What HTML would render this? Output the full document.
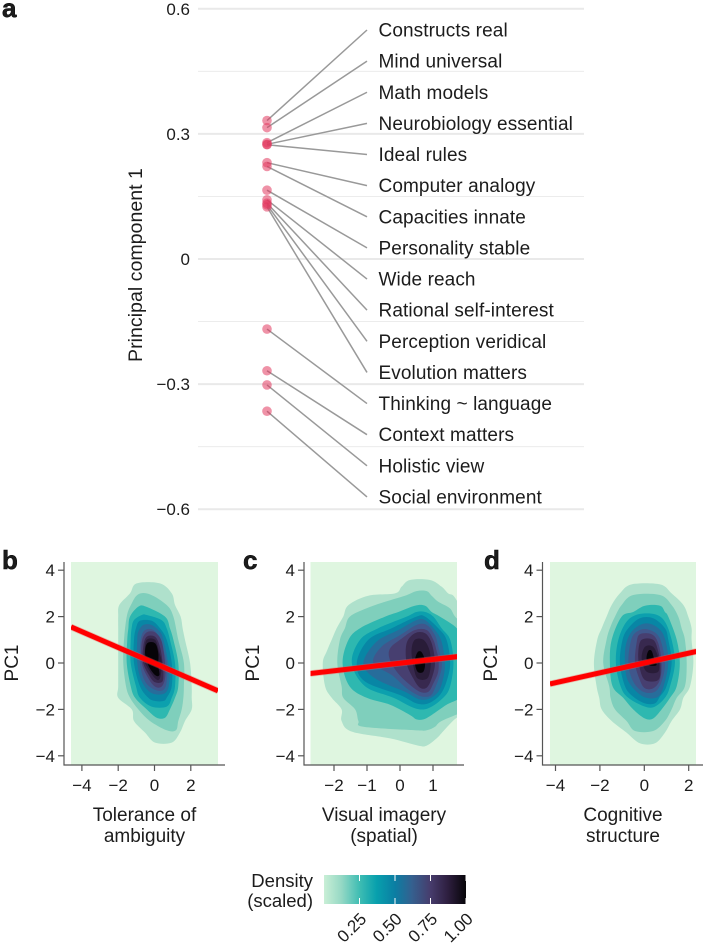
<!DOCTYPE html>
<html lang="en">
<head>
<meta charset="utf-8">
<title>Principal component 1 loadings and density panels</title>
<style>
html,body{margin:0;padding:0;background:#fff;}
svg{display:block;font-family:"Liberation Sans",sans-serif;}
text{fill:#1c1c1c;}
</style>
</head>
<body>
<svg id="fig" xmlns="http://www.w3.org/2000/svg" width="704" height="943" viewBox="0 0 704 943">
  <defs>
    <linearGradient id="densityGradient" x1="0" y1="0" x2="1" y2="0">
      <stop offset="0" stop-color="#c9efd6"/>
      <stop offset="0.12" stop-color="#97d9c5"/>
      <stop offset="0.25" stop-color="#3fbdb3"/>
      <stop offset="0.37" stop-color="#08a0ad"/>
      <stop offset="0.5" stop-color="#0b7ea3"/>
      <stop offset="0.62" stop-color="#35608f"/>
      <stop offset="0.75" stop-color="#473c6c"/>
      <stop offset="0.87" stop-color="#2e1f40"/>
      <stop offset="1" stop-color="#070509"/>
    </linearGradient>
  </defs>
  <g id="panelA"></g>
  <g id="panelB"></g>
  <g id="panelC"></g>
  <g id="panelD"></g>
  <g id="legend">
    <text x="313" y="887" text-anchor="end" font-size="18.5">Density</text>
    <text x="313" y="907" text-anchor="end" font-size="18.5">(scaled)</text>
    <rect x="324" y="875" width="142" height="29" fill="url(#densityGradient)"/>
  </g>
</svg>
<script>
// ---------- Panel a data ----------
const itemNames = ["Constructs real","Mind universal","Math models","Neurobiology essential","Ideal rules","Computer analogy","Capacities innate","Personality stable","Wide reach","Rational self-interest","Perception veridical","Evolution matters","Thinking ~ language","Context matters","Holistic view","Social environment"];
const itemLoadings = [0.332,0.315,0.279,0.275,0.274,0.231,0.222,0.165,0.142,0.134,0.130,0.125,-0.168,-0.268,-0.302,-0.365];
const pc1Ticks = [0.6,0.3,0,-0.3,-0.6];
const pc1TickLabels = ["0.6","0.3","0","\u22120.3","\u22120.6"];
const pc1MinorTicks = [0.45,0.15,-0.15,-0.45];

// ---------- Density contours: each level is a list of rows [pc1, xLeft, xRight] ----------
const contoursB = [
 [[3.43,-.98,.3],[3,-1.35,.95],[2.5,-1.94,1.13],[2,-2,1.44],[1.5,-2,1.55],[1,-2,1.68],[0,-2,1.96],[-1,-2,2.05],[-1.5,-2,2.05],[-2,-1.25,2.05],[-2.5,-1.13,1.68],[-3,-.52,1.4],[-3.43,.03,.95]],
 [[2.96,-.9,-.25],[2.5,-1.3,.67],[2,-1.53,1.04],[1,-1.68,1.31],[0,-1.72,1.62],[-1,-1.57,1.62],[-1.5,-1.35,1.59],[-2,-.89,1.5],[-2.5,-.25,1.31],[-2.9,.67,1.18]],
 [[2.43,-.89,-.47],[2,-1.35,.58],[1.5,-1.44,.85],[1,-1.5,1.04],[0,-1.53,1.31],[-1,-1.31,1.31],[-1.5,-1.07,1.13],[-2,-.43,.85],[-2.36,.12,.58]],
 [[2.07,-.7,-.43],[1.85,-1.13,.39],[1.5,-1.26,.67],[1,-1.31,.85],[0,-1.31,1.13],[-1,-1.02,1.13],[-1.5,-.8,.95],[-1.88,-.16,.67]],
 [[1.82,-.8,-.16],[1.5,-1.02,.3],[1,-1.13,.67],[0,-1.13,.95],[-1,-.8,.95],[-1.5,-.34,.67],[-1.64,.03,.49]],
 [[1.64,-.62,-.16],[1.35,-.89,.3],[1,-.95,.49],[0,-.95,.76],[-.8,-.7,.82],[-1.3,-.16,.58]],
 [[1.42,-.52,-.06],[1,-.76,.3],[0,-.8,.67],[-.8,-.52,.67],[-1.16,.03,.49]],
 [[1.32,-.43,.03],[.92,-.7,.4],[0,-.7,.58],[-.66,-.34,.58],[-1.02,.03,.39]],
 [[1.13,-.43,.03],[.7,-.62,.3],[0,-.62,.45],[-.59,-.25,.49],[-.83,.03,.39]],
 [[1,-.43,.03],[.5,-.55,.25],[0,-.52,.4],[-.66,.03,.3]],
 [[.85,-.4,.03],[.42,-.52,.21],[-.1,-.34,.21],[-.52,.03,.27]]
];
const contoursC = [
 [[3.58,.3,.91],[3.29,.05,1.26],[3,-.15,1.46],[2.9,-.96,1.62],[2.5,-1.56,1.8],[2,-1.72,2],[1.5,-1.92,2],[1,-2.07,2],[.5,-2.22,2],[0,-2.34,2],[-1,-2.27,2],[-1.5,-2.07,2],[-2,-1.77,2],[-2.5,-1.77,1.6],[-2.96,-1.46,1.3],[-3.25,-.3,1.11],[-3.56,.55,.81]],
 [[3.1,.5,.81],[2.9,.15,.96],[2.64,-.45,1.16],[2.36,-1.01,1.51],[2,-1.52,1.67],[1.5,-1.67,2],[1,-1.82,2],[0,-1.9,2],[-1,-1.77,2],[-1.5,-1.72,2],[-2,-1.36,2],[-2.5,-1.26,1.26],[-2.75,-1.11,1.06],[-2.9,.45,.81]],
 [[2.47,.45,.76],[2.2,-.05,.96],[2,-.45,1.21],[1.5,-1.21,1.72],[1,-1.56,1.8],[0,-1.74,1.8],[-1,-1.53,1.8],[-1.5,-1.01,1.8],[-1.8,-.3,1.41],[-2.24,.3,.96],[-2.43,.5,.71]],
 [[2.2,.5,.76],[2,.2,1.01],[1.5,-.66,1.26],[1,-1.21,1.52],[0,-1.46,1.62],[-1,-1.06,1.52],[-1.5,-.2,1.31],[-1.95,.45,.86]],
 [[2,.5,.76],[1.5,-.25,1.16],[1,-.96,1.41],[0,-1.31,1.52],[-.8,-1.06,1.41],[-1.38,0,1.21],[-1.74,.5,.86]],
 [[1.85,.5,.76],[1.42,-.05,1.06],[.92,-.71,1.26],[0,-1.11,1.36],[-.66,-.76,1.31],[-1.24,.15,1.16],[-1.55,.55,.86]],
 [[1.64,.5,.81],[1.2,0,1.06],[.7,-.56,1.16],[0,-.81,1.27],[-.52,-.25,1.21],[-1.09,.2,1.06],[-1.42,.6,.91]],
 [[1.42,.45,.81],[1,0,1.01],[.63,-.3,1.09],[.2,-.32,1.16],[-.37,-.1,1.16],[-.88,.25,1.01],[-1.24,.6,.86]],
 [[1.28,.45,.76],[.85,.2,.96],[0,.2,1.06],[-.66,.4,.96],[-1.06,.6,.81]],
 [[1,.45,.71],[.56,.35,.89],[-.09,.4,.93],[-.66,.53,.83]],
 [[.46,.53,.66],[.06,.45,.76],[-.37,.53,.71]]
];
const contoursD = [
 [[3.39,-.57,.71],[3,-1.1,1.23],[2.5,-1.47,1.76],[2,-1.7,1.98],[1.5,-1.92,2.13],[1,-2.12,2.13],[0,-2.27,2.21],[-1,-2.15,2.06],[-1.5,-2.03,1.76],[-2,-1.92,1.61],[-2.5,-1.47,1.23],[-3,-.8,.93],[-3.46,-.2,.48]],
 [[2.93,-.5,.71],[2.5,-1.02,1.23],[2,-1.32,1.53],[1.5,-1.55,1.68],[1,-1.7,1.83],[0,-1.85,1.91],[-1,-1.58,1.83],[-1.5,-1.52,1.46],[-2,-1.32,1.23],[-2.5,-.8,.93],[-2.93,-.42,.4]],
 [[2.47,.03,.71],[2.2,-.5,.93],[2,-1.02,1.08],[1,-1.47,1.46],[0,-1.55,1.6],[-1,-1.43,1.46],[-1.5,-.95,1.16],[-2,-.5,.78],[-2.39,.03,.4]],
 [[2.1,-.27,.48],[1.78,-.8,.93],[1,-1.17,1.23],[0,-1.28,1.38],[-1,-1.07,1.16],[-1.5,-.72,.93],[-1.88,.03,.48]],
 [[1.93,-.2,.4],[1.5,-.72,.93],[1,-.98,1.08],[0,-1.1,1.23],[-1,-.87,1],[-1.45,-.5,.7],[-1.74,.03,.48]],
 [[1.67,-.12,.33],[1.35,-.57,.78],[.78,-.83,1],[0,-.87,1.08],[-.8,-.72,.93],[-1.45,-.05,.63]],
 [[1.42,-.2,.25],[1.06,-.57,.7],[0,-.72,.93],[-.8,-.5,.78],[-1.24,-.05,.48]],
 [[1.24,-.2,.33],[.85,-.35,.63],[0,-.42,.78],[-.73,-.2,.7],[-1.09,.03,.4]],
 [[1,-.12,.4],[.49,-.27,.63],[-.16,-.22,.73],[-.73,.03,.63]],
 [[.7,.03,.4],[.2,-.12,.63],[-.37,.1,.63]],
 [[.52,.18,.33],[.2,.1,.44],[-.09,.22,.55]]
];
const bandColors = ["#afe1cc","#7fcfbc","#2eb8b0","#0ca0ae","#0886a5","#276d9b","#40578c","#473f70","#38294f","#291c38","#060408"];

// ---------- Fitted lines and axes ----------
const fitSlopes = {b:-0.340,c:0.163,d:0.212};
const fitIntercepts = {b:-0.01,c:-0.01,d:0.0};
const xTicksB = [-4,-2,0,2];
const xTicksC = [-2,-1,0,1];
const xTicksD = [-4,-2,0,2];
const pc1DensityTicks = [4,2,0,-2,-4];
const densityTicks = [0.25,0.5,0.75,1];
const densityTickLabels = ["0.25","0.50","0.75","1.00"];

const NS = "http://www.w3.org/2000/svg";
function mk(parent, tag, attrs, txt){
  const el = document.createElementNS(NS, tag);
  for (const k in attrs) el.setAttribute(k, attrs[k]);
  if (txt !== undefined) el.textContent = txt;
  parent.appendChild(el);
  return el;
}
function fmtMinus(v){ return v < 0 ? "\u2212" + Math.abs(v) : String(v); }

// ---------- Panel a ----------
const gA = document.getElementById("panelA");
const yA = v => 259 - v * 417;
const LABEL_TOP = 30, LABEL_STEP = 31.13;
let el;

el = mk(gA, "text", {x:2, y:17, "font-size":26, "font-weight":"bold", fill:"#000", stroke:"#000", "stroke-width":0.5}, "a");



pc1MinorTicks.forEach(v => {
  el = mk(gA, "line", {x1:198, x2:584, y1:yA(v), y2:yA(v), stroke:"#ececec", "stroke-width":1});
  
  
});
pc1Ticks.forEach((v, i) => {
  el = mk(gA, "line", {x1:198, x2:584, y1:yA(v), y2:yA(v), stroke:"#e9e9e9", "stroke-width":2});
  
  
  el = mk(gA, "text", {x:190, y:yA(v) + 6, "text-anchor":"end", "font-size":17, fill:"#333"}, pc1TickLabels[i]);
  
  
});
el = mk(gA, "text", {x:0, y:0, transform:"translate(142 265) rotate(-90)", "text-anchor":"middle", "font-size":19.6}, "Principal component 1");



itemLoadings.forEach((v, i) => {
  const ly = LABEL_TOP + i * LABEL_STEP;
  el = mk(gA, "line", {x1:267, y1:yA(v), x2:367, y2:ly, stroke:"#999", "stroke-width":1.5});
  
  
});
itemLoadings.forEach((v, i) => {
  const ly = LABEL_TOP + i * LABEL_STEP;
  el = mk(gA, "circle", {cx:267, cy:yA(v), r:4.8, fill:"#e2385f", "fill-opacity":0.55});
  
  
  el = mk(gA, "text", {x:378.5, y:ly + 6.5, "font-size":19, "letter-spacing":0.1}, itemNames[i]);
  
  
});

// ---------- Density panels ----------
function smoothClosed(pts){
  const n = pts.length;
  let d = "M" + pts[0][0].toFixed(2) + " " + pts[0][1].toFixed(2);
  for (let i = 0; i < n; i++){
    const p0 = pts[(i - 1 + n) % n], p1 = pts[i], p2 = pts[(i + 1) % n], p3 = pts[(i + 2) % n];
    const c1x = p1[0] + (p2[0] - p0[0]) / 6, c1y = p1[1] + (p2[1] - p0[1]) / 6;
    const c2x = p2[0] - (p3[0] - p1[0]) / 6, c2y = p2[1] - (p3[1] - p1[1]) / 6;
    d += "C" + c1x.toFixed(2) + " " + c1y.toFixed(2) + " " + c2x.toFixed(2) + " " + c2y.toFixed(2) + " " + p2[0].toFixed(2) + " " + p2[1].toFixed(2);
  }
  return d + "Z";
}
function drawPanel(cfg){
  const g = document.getElementById(cfg.id);
  const sx = v => cfg.x0 + v * cfg.xUnit;
  const sy = v => 663 - v * 23.2;
  let e;
  e = mk(g, "text", {x:cfg.letterX, y:569, "font-size":26, "font-weight":"bold", fill:"#000", stroke:"#000", "stroke-width":0.5}, cfg.letter);
  
  

  e = mk(g, "rect", {x:cfg.left, y:562, width:cfg.right - cfg.left, height:203, fill:"#dff6e0"});
  
  

  const clipId = "clip-" + cfg.id;
  const cp = mk(g, "clipPath", {id:clipId});
  mk(cp, "rect", {x:cfg.left, y:562, width:cfg.right - cfg.left, height:203});

  const cg = mk(g, "g", {"clip-path":"url(#" + clipId + ")"});
  cfg.contours.forEach((rows, lvl) => {
    const pts = [];
    rows.forEach(r => pts.push([sx(r[1]), sy(r[0])]));
    for (let i = rows.length - 1; i >= 0; i--) pts.push([sx(rows[i][2]), sy(rows[i][0])]);
    e = mk(cg, "path", {d:smoothClosed(pts), fill:bandColors[lvl]});
    
    
  });

  const xa = cfg.xMin, xb = cfg.xMax;
  const ya = cfg.slope * xa + cfg.intercept, yb = cfg.slope * xb + cfg.intercept;
  e = mk(cg, "line", {x1:sx(xa), y1:sy(ya), x2:sx(xb), y2:sy(yb), stroke:"#f05a5a", "stroke-width":6.5, "stroke-opacity":0.4});
  
  
  e = mk(cg, "line", {x1:sx(xa), y1:sy(ya), x2:sx(xb), y2:sy(yb), stroke:"#ff0000", "stroke-width":5});
  
  

  e = mk(g, "path", {d:"M" + cfg.axis + " 562V765H" + (cfg.right + 7), fill:"none", stroke:"#555", "stroke-width":1.2});
  
  

  pc1DensityTicks.forEach(v => {
    e = mk(g, "line", {x1:cfg.axis - 6, x2:cfg.axis, y1:sy(v), y2:sy(v), stroke:"#555", "stroke-width":1.2});
    
    
    e = mk(g, "text", {x:cfg.axis - 9, y:sy(v) + 6, "text-anchor":"end", "font-size":17, fill:"#333"}, fmtMinus(v));
    
    
  });
  cfg.xTicks.forEach(v => {
    e = mk(g, "line", {x1:sx(v), x2:sx(v), y1:765, y2:771, stroke:"#555", "stroke-width":1.2});
    
    
    e = mk(g, "text", {x:sx(v), y:791, "text-anchor":"middle", "font-size":17, fill:"#333"}, fmtMinus(v));
    
    
  });
  e = mk(g, "text", {transform:"translate(" + cfg.pcX + " 663) rotate(-90)", "text-anchor":"middle", "font-size":19}, "PC1");
  
  
  e = mk(g, "text", {x:cfg.titleX, y:821, "text-anchor":"middle", "font-size":19}, cfg.title1);
  
  
  e = mk(g, "text", {x:cfg.titleX, y:842, "text-anchor":"middle", "font-size":19}, cfg.title2);
  
  
}
drawPanel({id:"panelB", letter:"b", letterX:2, left:71, right:218, axis:64, x0:154.5, xUnit:18.15, xMin:-4.6, xMax:3.5, xTicks:xTicksB, contours:contoursB, slope:fitSlopes.b, intercept:fitIntercepts.b, pcX:18, titleX:144.5, title1:"Tolerance of", title2:"ambiguity"});
drawPanel({id:"panelC", letter:"c", letterX:243, left:310.5, right:457, axis:304, x0:400, xUnit:33, xMin:-2.72, xMax:1.74, xTicks:xTicksC, contours:contoursC, slope:fitSlopes.c, intercept:fitIntercepts.c, pcX:259, titleX:384, title1:"Visual imagery", title2:"(spatial)"});
drawPanel({id:"panelD", letter:"d", letterX:484, left:550, right:696, axis:542.5, x0:644.3, xUnit:22.2, xMin:-4.25, xMax:2.35, xTicks:xTicksD, contours:contoursD, slope:fitSlopes.d, intercept:fitIntercepts.d, pcX:497, titleX:623, title1:"Cognitive", title2:"structure"});

// ---------- Colour bar ticks ----------
const legendG = document.getElementById("legend");
const legendX = v => 324 + v * 142;
densityTicks.forEach((v, i) => {
  let t;
  t = mk(legendG, "line", {x1:legendX(v), x2:legendX(v), y1:875, y2:881, stroke:"#fff", "stroke-width":1});
  
  
  t = mk(legendG, "line", {x1:legendX(v), x2:legendX(v), y1:898, y2:904, stroke:"#fff", "stroke-width":1});
  
  
  t = mk(legendG, "text", {transform:"translate(" + (legendX(v) + 8) + " 920) rotate(-45)", "text-anchor":"end", "font-size":17, fill:"#333"}, densityTickLabels[i]);
  
  
});
</script>
</body>
</html>
